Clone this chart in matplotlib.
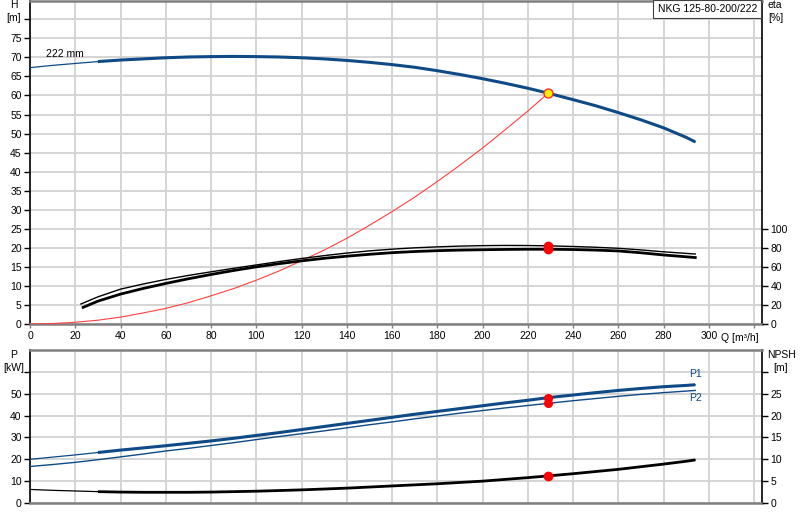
import matplotlib
matplotlib.use("Agg")
import matplotlib.pyplot as plt

plt.rcParams['font.family'] = ['Liberation Sans', 'DejaVu Sans']
plt.rcParams['font.size'] = 7.5

# ---------------- data ----------------
q = [0, 10, 20, 30, 40, 50, 60, 70, 80, 90, 100, 110, 120, 130, 140, 150, 160,
     170, 180, 190, 200, 210, 220, 229, 240, 250, 260, 270, 280, 290, 294]
head = [67.3, 67.9, 68.4, 68.9, 69.3, 69.6, 69.9, 70.1, 70.2, 70.25, 70.2, 70.1, 69.9,
        69.6, 69.2, 68.7, 68.1, 67.4, 66.5, 65.5, 64.4, 63.2, 61.9, 60.6, 58.9, 57.3,
        55.5, 53.6, 51.5, 49.0, 47.8]
p1 = [20.0, 21.0, 22.0, 23.1, 24.2, 25.2, 26.2, 27.3, 28.4, 29.6, 30.9, 32.2, 33.6,
      35.0, 36.4, 37.8, 39.2, 40.6, 41.9, 43.2, 44.5, 45.8, 47.0, 48.2, 49.4, 50.5,
      51.5, 52.4, 53.2, 53.8, 54.1]
p2 = [16.7, 17.6, 18.6, 19.8, 21.1, 22.4, 23.8, 25.0, 26.3, 27.6, 29.0, 30.4, 31.7,
      33.0, 34.4, 35.8, 37.1, 38.5, 39.8, 41.1, 42.3, 43.5, 44.6, 45.6, 46.8, 47.8,
      48.8, 49.7, 50.5, 51.2, 51.5]
npsh = [3.1, 2.9, 2.75, 2.6, 2.5, 2.45, 2.45, 2.45, 2.5, 2.6, 2.7, 2.85, 3.0, 3.2,
        3.4, 3.65, 3.9, 4.15, 4.4, 4.7, 5.0, 5.4, 5.8, 6.2, 6.7, 7.2, 7.7, 8.3, 8.9,
        9.55, 9.85]

q_eta1 = [22.5, 30, 40, 50, 60, 70, 80, 90, 100, 110, 120, 130, 140, 150, 160, 170,
          180, 190, 200, 210, 220, 229, 240, 250, 260, 270, 280, 294]
eta1 = [21, 28.5, 36.6, 42, 46.8, 51, 54.8, 58.5, 62, 65.5, 68.8, 71.8, 74.5, 76.8,
        78.6, 80, 81, 81.8, 82.3, 82.5, 82.4, 82.1, 81.4, 80.6, 79.5, 77.8, 75.8, 73.5]
q_eta2 = [23.5, 30, 40, 50, 60, 70, 80, 90, 100, 110, 120, 130, 140, 150, 160, 170,
          180, 190, 200, 210, 220, 229, 240, 250, 260, 270, 280, 294]
eta2 = [17.5, 24, 31.4, 37.3, 42.6, 47.5, 52, 56.2, 60, 63.3, 66.3, 69, 71.2, 73.2,
        74.9, 76.1, 77, 77.6, 78, 78.3, 78.5, 78.5, 78.2, 77.6, 76.7, 74.8, 72.5, 69.8]

q_sys = [0, 10, 20, 30, 40, 50, 60, 70, 80, 90, 100, 110, 120, 130, 140, 150, 160,
         170, 180, 190, 200, 210, 220, 229]
h_sys = [0, 0.12, 0.45, 1.0, 1.8, 2.9, 4.1, 5.6, 7.4, 9.3, 11.5, 13.9, 16.6, 19.4,
         22.5, 25.9, 29.5, 33.3, 37.4, 41.7, 46.2, 51.0, 55.9, 60.6]

duty_q = 229
duty_h = 60.6
duty_eta = [82.1, 78.5]
duty_p = [48.2, 45.6]
duty_npsh = 6.2

x_ticks = [0, 20, 40, 60, 80, 100, 120, 140, 160, 180, 200, 220, 240, 260, 280, 300, 320]
x_labels = ['0', '20', '40', '60', '80', '100', '120', '140', '160', '180', '200',
            '220', '240', '260', '280', '300', '']
h_ticks = [0, 5, 10, 15, 20, 25, 30, 35, 40, 45, 50, 55, 60, 65, 70, 75, 80]
eta_ticks = [0, 20, 40, 60, 80, 100]
p_ticks = [0, 10, 20, 30, 40, 50, 60]
npsh_ticks = [0, 5, 10, 15, 20, 25, 30]

title = "NKG 125-80-200/222"
blue = '#0d4a86'
grid_c = '#d4d4d4'

thick_from = 3  # index where the thick segment starts (Q=30)

fig = plt.figure(figsize=(8, 5.2), dpi=100)
ax = fig.add_axes([30/800, 1-324/520, 732/800, 323/520])
ax_b = fig.add_axes([30/800, 1-503/520, 732/800, 153/520])


def style(a):
    for s in ['top', 'bottom']:
        a.spines[s].set_color('#808080')
        a.spines[s].set_linewidth(1.8)
    a.spines['left'].set_color('black')
    a.spines['left'].set_linewidth(1.2)
    a.spines['right'].set_color('black')
    a.spines['right'].set_linewidth(1.2)
    a.set_xlim(0, 323.5)
    a.set_xticks(x_ticks)
    a.grid(True, color=grid_c, linewidth=1.4)
    a.set_axisbelow(True)
    a.tick_params(axis='x', length=3, color='#808080', width=1, pad=2)
    a.tick_params(axis='y', length=4, color='black', width=1, pad=2)


# ---------- top panel ----------
style(ax)
ax.set_ylim(0, 84.8)
ax.set_yticks(h_ticks)
ax.set_yticklabels([str(t) if t <= 75 else '' for t in h_ticks])
ax.set_xticklabels(x_labels)

ax.plot(q_sys, h_sys, color='#ff4040', lw=0.8, zorder=3)
ax.plot(q, head, color=blue, lw=0.9, zorder=4)
ax.plot(q[thick_from:], head[thick_from:], color=blue, lw=2.2, zorder=4,
        solid_capstyle='butt')
ax.plot([duty_q], [duty_h], 'o', ms=6.5, mfc='#ffee00', mec='#ff3030', mew=1.0, zorder=6)
ax.text(7, 70.8, "222 mm", fontsize=7.5, va='center', ha='left')

ax2 = ax.twinx()
ax2.set_ylim(0, 84.8 * 4)
ax2.set_yticks(eta_ticks)
ax2.tick_params(axis='y', length=4, color='black', width=1, pad=2)
for s in ax2.spines.values():
    s.set_visible(False)
ax2.plot(q_eta1, eta1, color='black', lw=1.0, zorder=4)
ax2.plot(q_eta2, eta2, color='black', lw=2.0, zorder=4)
ax2.plot([duty_q, duty_q], duty_eta, 'o', color='#ff0000', ms=6, zorder=6)
ax2.plot([duty_q, duty_q], duty_eta, color='#ff0000', lw=5, zorder=6)

fig.text(14/800, 1-5/520, "H", ha='center', va='center')
fig.text(14/800, 1-18/520, "[m]", ha='center', va='center')
fig.text(775/800, 1-5/520, "eta", ha='center', va='center')
fig.text(776/800, 1-18/520, "[%]", ha='center', va='center')
fig.text(721/800, 1-338/520, "Q [m³/h]", ha='left', va='center')

fig.text(757/800, 1-9/520, title, ha='right', va='center',
         bbox=dict(boxstyle='square,pad=0.4', fc='white', ec='#404040', lw=0.8))

# ---------- bottom panel ----------
style(ax_b)
ax_b.set_ylim(0, 70)
ax_b.set_yticks(p_ticks)
ax_b.set_yticklabels([str(t) if t <= 50 else '' for t in p_ticks])
ax_b.set_xticklabels([])
ax_b.tick_params(axis='x', length=0)

ax_b.plot(q, p2, color=blue, lw=1.0, zorder=4)
ax_b.plot(q, p1, color=blue, lw=0.9, zorder=4)
ax_b.plot(q[thick_from:], p1[thick_from:], color=blue, lw=2.2, zorder=4,
          solid_capstyle='butt')
ax_b.plot([duty_q, duty_q], duty_p, 'o', color='#ff0000', ms=5.5, zorder=6)
ax_b.plot([duty_q, duty_q], duty_p, color='#ff0000', lw=4, zorder=6)
ax_b.text(q[-1], p1[-1] + 2.5, "P1", color=blue, ha='center', va='bottom')
ax_b.text(q[-1], p2[-1] - 1.2, "P2", color=blue, ha='center', va='top')

ax_b2 = ax_b.twinx()
ax_b2.set_ylim(0, 35)
ax_b2.set_yticks(npsh_ticks)
ax_b2.set_yticklabels([str(t) if t <= 25 else '' for t in npsh_ticks])
ax_b2.tick_params(axis='y', length=4, color='black', width=1, pad=2)
for s in ax_b2.spines.values():
    s.set_visible(False)
ax_b2.plot(q, npsh, color='black', lw=0.9, zorder=4)
ax_b2.plot(q[thick_from:], npsh[thick_from:], color='black', lw=2.0, zorder=4,
           solid_capstyle='butt')
ax_b2.plot([duty_q], [duty_npsh], 'o', color='#ff0000', ms=6, zorder=6)

fig.text(14/800, 1-355/520, "P", ha='center', va='center')
fig.text(14/800, 1-368/520, "[kW]", ha='center', va='center')
fig.text(781/800, 1-355/520, "NPSH", ha='center', va='center')
fig.text(781/800, 1-368/520, "[m]", ha='center', va='center')

fig.savefig("out.png", dpi=100)
